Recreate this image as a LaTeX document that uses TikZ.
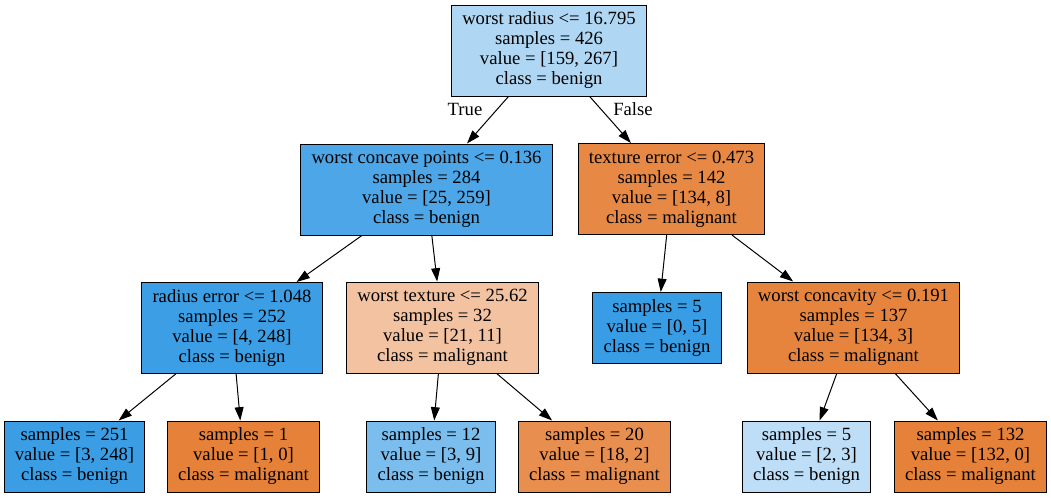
\documentclass[tikz,border=0pt]{standalone}
\usepackage{fontspec}
\setmainfont{Liberation Serif}
\usetikzlibrary{arrows.meta}

\definecolor{rootfill}{HTML}{AFD7F4}
\definecolor{wcpfill}{HTML}{4CA6E7}
\definecolor{tefill}{HTML}{E78945}
\definecolor{refill}{HTML}{3C9FE5}
\definecolor{wtfill}{HTML}{F3C3A1}
\definecolor{bluefill}{HTML}{399DE5}
\definecolor{wcfill}{HTML}{E6843D}
\definecolor{lfblue}{HTML}{3B9EE5}
\definecolor{orangefill}{HTML}{E58139}
\definecolor{lftwelve}{HTML}{7BBEEE}
\definecolor{lftwenty}{HTML}{E88F4F}
\definecolor{lffive}{HTML}{BDDEF6}

\begin{document}
\begin{tikzpicture}[x=0.75pt, y=-0.75pt,
    font=\fontsize{14}{15}\selectfont,
    split/.style={draw=black, line width=0.75pt, align=center, inner xsep=8pt, minimum height=68.25pt,
        execute at begin node={\rule{0pt}{13.5pt}}},
    leaf/.style={split, minimum height=53.25pt},
    edge/.style={line width=0.75pt, -{Triangle[length=10pt, width=6.7pt]}}]
\useasboundingbox (0,0) rectangle (1051,497);
% Depth 0
    \node[split, fill=rootfill] (n0) at (549,50.5) {worst radius <= 16.795\\samples = 426\\value = [159, 267]\\class = benign};
% Depth 1
    \node[split, fill=wcpfill] (n1) at (426.5,189.5) {worst concave points <= 0.136\\samples = 284\\value = [25, 259]\\class = benign};
    \node[split, fill=tefill] (n8) at (671.5,189) {texture error <= 0.473\\samples = 142\\value = [134, 8]\\class = malignant};
% Depth 2
    \node[split, fill=refill] (n2) at (232,328) {radius error <= 1.048\\samples = 252\\value = [4, 248]\\class = benign};
    \node[split, fill=wtfill] (n5) at (442.5,327.5) {worst texture <= 25.62\\samples = 32\\value = [21, 11]\\class = malignant};
    \node[leaf, fill=bluefill] (n9) at (657,328) {samples = 5\\value = [0, 5]\\class = benign};
    \node[split, fill=wcfill] (n10) at (853.5,327.5) {worst concavity <= 0.191\\samples = 137\\value = [134, 3]\\class = malignant};
% Depth 3
    \node[leaf, fill=lfblue] (n3) at (74.5,456.5) {samples = 251\\value = [3, 248]\\class = benign};
    \node[leaf, fill=orangefill] (n4) at (243.5,456.5) {samples = 1\\value = [1, 0]\\class = malignant};
    \node[leaf, fill=lftwelve] (n6) at (431,456.5) {samples = 12\\value = [3, 9]\\class = benign};
    \node[leaf, fill=lftwenty] (n7) at (594.5,456.5) {samples = 20\\value = [18, 2]\\class = malignant};
    \node[leaf, fill=lffive] (n11) at (806.5,456.5) {samples = 5\\value = [2, 3]\\class = benign};
    \node[leaf, fill=orangefill] (n12) at (970.5,456.5) {samples = 132\\value = [132, 0]\\class = malignant};
% Edge labels
    \node (truelbl) at (465,109) {True};
    \node (falselbl) at (633,109) {False};
% Edges
    \draw[edge] (n0) -- (n1);
    \draw[edge] (n0) -- (n8);
    \draw[edge] (n1) -- (n2);
    \draw[edge] (n1) -- (n5);
    \draw[edge] (n2) -- (n3);
    \draw[edge] (n2) -- (n4);
    \draw[edge] (n5) -- (n6);
    \draw[edge] (n5) -- (n7);
    \draw[edge] (n8) -- (n9);
    \draw[edge] (n8) -- (n10);
    \draw[edge] (n10) -- (n11);
    \draw[edge] (n10) -- (n12);
\end{tikzpicture}
\end{document}
